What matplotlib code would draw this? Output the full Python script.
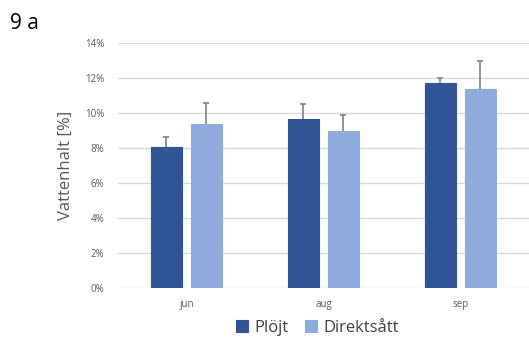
import numpy as np
import matplotlib
matplotlib.use("Agg")
import matplotlib.pyplot as plt
from matplotlib.ticker import PercentFormatter

# --- Data: water content per month and tillage method ---
months = ["jun", "aug", "sep"]
series_names = ["Plöjt", "Direktsått"]
plojt = [8.06, 9.66, 11.68]
direktsatt = [9.34, 8.94, 11.37]
plojt_err = [0.55, 0.84, 0.29]
direktsatt_err = [1.23, 0.93, 1.57]

colors = ["#2F5597", "#8FAADC"]

plt.rcParams["font.family"] = ["Open Sans", "DejaVu Sans"]

fig = plt.figure(figsize=(5.29, 3.40), dpi=100)
ax = fig.add_axes([0.223, 0.154, 0.777, 0.72])

x = np.arange(len(months))
width = 0.225
offset = 0.146

for vals, errs, name, col, sign in [
    (plojt, plojt_err, series_names[0], colors[0], -1),
    (direktsatt, direktsatt_err, series_names[1], colors[1], 1),
]:
    ax.bar(x + sign * offset, vals, width, color=col, label=name, zorder=3,
           edgecolor=col, linewidth=0.8)
    # upper error only: hide the cap drawn at the bar top
    _, caps, _ = ax.errorbar(x + sign * offset, vals,
                             yerr=[np.zeros(len(errs)), errs],
                             fmt="none", ecolor="#7f7f7f", elinewidth=1.2,
                             capsize=2.5, capthick=1.2, zorder=4)
    caps[0].set_visible(False)

ax.set_xlim(-0.5, 2.5)
ax.set_ylim(0, 14)
ax.set_yticks(np.arange(0, 15, 2))
ax.yaxis.set_major_formatter(PercentFormatter(decimals=0))
ax.set_xticks(x)
ax.set_xticklabels(months)
ax.tick_params(axis="both", length=0, labelsize=7, colors="#595959", pad=8)
ax.tick_params(axis="y", pad=10)
ax.grid(axis="y", color="#d9d9d9", linewidth=1.0, zorder=0)
for s in ax.spines.values():
    s.set_visible(False)

ax.set_ylabel("Vattenhalt [%]", fontsize=12, color="#595959", labelpad=8)

fig.text(0.018, 0.915, "9 a", fontsize=15, color="black")

leg = fig.legend(loc="center", bbox_to_anchor=(0.6, 0.035), ncol=2, frameon=False,
                 fontsize=12, handlelength=0.7, handleheight=0.7,
                 handletextpad=0.4, columnspacing=1.0, labelcolor="#404040")

fig.savefig("out.png", dpi=100)
